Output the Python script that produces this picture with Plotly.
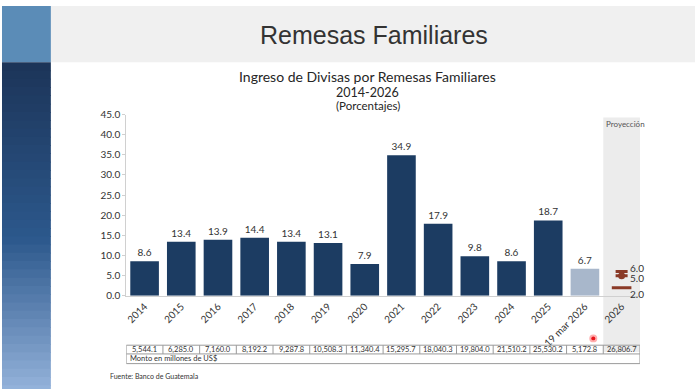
import plotly.graph_objects as go

# ---------------- data ----------------
categories = ["2014", "2015", "2016", "2017", "2018", "2019", "2020", "2021",
              "2022", "2023", "2024", "2025", "19 mar 2026", "2026"]
growth_pct = [8.6, 13.4, 13.9, 14.4, 13.4, 13.1, 7.9, 34.9, 17.9, 9.8, 8.6, 18.7, 6.7, None]
amount_musd = ["5,544.1", "6,285.0", "7,160.0", "8,192.2", "9,287.8", "10,508.3", "11,340.4",
               "15,295.7", "18,040.3", "19,804.0", "21,510.2", "25,530.2", "5,172.8", "26,806.7"]
proj_category = "2026"
proj_high = 6.0
proj_mid = 5.0
proj_low = 2.0
y_ticks = [0, 5, 10, 15, 20, 25, 30, 35, 40, 45]

W, H = 695, 389
def px(x):
    return x / W
def py(y):
    return 1 - y / H

NAVY = "#1c3c62"
LIGHT = "#a8b7cb"
PROJ = "#8a3a27"

bar_colors = [NAVY] * 12 + [LIGHT, LIGHT]
proj_idx = categories.index(proj_category)
ncat = len(categories)

fig = go.Figure()

fig.add_trace(go.Bar(
    x=categories, y=growth_pct,
    marker=dict(color=bar_colors, line=dict(width=0)),
    text=[f"{v:.1f}" if v is not None else "" for v in growth_pct],
    textposition="outside",
    textfont=dict(family="Lato", size=10, color="#333333"),
    cliponaxis=False,
    hoverinfo="skip",
))

# projection: high (cap) and central (dot) values
fig.add_trace(go.Scatter(
    x=[proj_category], y=[proj_mid], mode="markers",
    marker=dict(symbol="circle", size=7, color=PROJ),
    error_y=dict(type="data", symmetric=False, array=[proj_high - proj_mid], arrayminus=[0],
                 color=PROJ, thickness=3, width=6),
    hoverinfo="skip",
))
# projection: low value
fig.add_trace(go.Scatter(
    x=[proj_category], y=[proj_low], mode="markers",
    marker=dict(symbol="line-ew", size=14, line=dict(color=PROJ, width=3)),
    hoverinfo="skip",
))

shapes = []
# header band
shapes.append(dict(type="rect", xref="paper", yref="paper", x0=px(49), x1=1, y0=py(58), y1=1,
                   fillcolor="#f0f0f0", line=dict(width=0), layer="below"))
# left strip top
shapes.append(dict(type="rect", xref="paper", yref="paper", x0=0, x1=px(49), y0=py(58), y1=1,
                   fillcolor="#5b8cb7", line=dict(width=0), layer="below"))
# left strip gradient
def lerp(c1, c2, t):
    return tuple(int(round(a + (b - a) * t)) for a, b in zip(c1, c2))
stops = [(58, (28, 52, 88)), (240, (44, 88, 140)), (400, (150, 180, 220))]
n = 40
for i in range(n):
    y0 = 58 + (400 - 58) * i / n
    y1 = 58 + (400 - 58) * (i + 1) / n
    ym = (y0 + y1) / 2
    if ym <= stops[1][0]:
        t = (ym - stops[0][0]) / (stops[1][0] - stops[0][0])
        c = lerp(stops[0][1], stops[1][1], t)
    else:
        t = (ym - stops[1][0]) / (stops[2][0] - stops[1][0])
        c = lerp(stops[1][1], stops[2][1], t)
    shapes.append(dict(type="rect", xref="paper", yref="paper", x0=0, x1=px(49),
                       y0=py(y1) - 0.002, y1=py(y0),
                       fillcolor="rgb(%d,%d,%d)" % c, line=dict(width=0), layer="below"))

# projection band
shapes.append(dict(type="rect", xref="x", yref="paper", x0=proj_idx - 0.5, x1=proj_idx + 0.7,
                   y0=py(357), y1=py(115),
                   fillcolor="#ececec", line=dict(width=0), layer="below"))

# table
tbl_top, tbl_mid, tbl_bot = 350, 359, 369
grid = "#9a9a9a"
shapes.append(dict(type="rect", xref="x", yref="paper", x0=-0.5, x1=ncat - 0.5,
                   y0=py(tbl_bot), y1=py(tbl_top), line=dict(color=grid, width=1)))
shapes.append(dict(type="line", xref="x", yref="paper", x0=-0.5, x1=ncat - 0.5,
                   y0=py(tbl_mid), y1=py(tbl_mid), line=dict(color=grid, width=1)))
for i in range(1, ncat):
    shapes.append(dict(type="line", xref="x", yref="paper", x0=i - 0.5, x1=i - 0.5,
                       y0=py(tbl_mid), y1=py(tbl_top), line=dict(color=grid, width=1)))

# cursor dot seen in the slide
shapes.append(dict(type="circle", xref="paper", yref="paper", x0=px(589), x1=px(597),
                   y0=py(347), y1=py(339), fillcolor="rgba(255,120,120,0.6)", line=dict(width=0)))
shapes.append(dict(type="circle", xref="paper", yref="paper", x0=px(591), x1=px(595),
                   y0=py(345), y1=py(341), fillcolor="#e8141b", line=dict(width=0)))

annotations = []
def ann(text, x, y, size, xanchor="center", family="Lato", color="#333333", xref="paper", yref="paper", **kw):
    annotations.append(dict(text=text, xref=xref, yref=yref, x=x, y=y, showarrow=False,
                            xanchor=xanchor, yanchor="middle",
                            font=dict(family=family, size=size, color=color), **kw))

ann("Remesas Familiares", px(373), py(30), 25, family="Liberation Sans", color="#333333")
ann("Ingreso de Divisas por Remesas Familiares", px(367), py(73), 14, color="#262626")
ann("2014-2026", px(367), py(89), 12.5, color="#262626")
ann("(Porcentajes)", px(367), py(103), 11.5, color="#262626")
ann("Proyección", proj_idx + 0.1, py(122), 8, color="#555555", xref="x")
for val, ys in ((proj_high, 4), (proj_mid, -2), (proj_low, -6)):
    ann(f"{val:.1f}", proj_idx, val, 10, xanchor="left", xref="x", yref="y", xshift=6, yshift=ys)
for i, amt in enumerate(amount_musd):
    ann(amt, i, py((tbl_top + tbl_mid) / 2), 7.5, xref="x")
ann("Monto en millones de US$", px(126), py((tbl_mid + tbl_bot) / 2), 7.5, xanchor="left")
ann("Fuente: Banco de Guatemala", px(106), py(382), 7, xanchor="left")

fig.update_layout(
    width=W, height=H, autosize=False,
    margin=dict(l=0, r=0, t=0, b=0),
    paper_bgcolor="white", plot_bgcolor="rgba(0,0,0,0)",
    showlegend=False,
    bargap=0.22,
    shapes=shapes, annotations=annotations,
    xaxis=dict(domain=[px(124.6), px(639.8)], type="category", categoryorder="array",
               categoryarray=categories, range=[-0.5, ncat - 0.5], autorange=False,
               tickangle=-45,
               tickfont=dict(family="Lato", size=10, color="#333333"),
               showline=True, linecolor="#d0d0d0", linewidth=1, ticks="", showgrid=False,
               fixedrange=True),
    yaxis=dict(domain=[py(299), py(112)], range=[0, 45], autorange=False, tickvals=y_ticks,
               ticktext=[f"{v:.1f}" for v in y_ticks],
               tickfont=dict(family="Lato", size=10, color="#333333"),
               showline=True, linecolor="#d0d0d0", linewidth=1, ticks="outside", ticklen=3,
               tickcolor="#d0d0d0", showgrid=False, zeroline=False, fixedrange=True),
)

fig.write_html("out.html", config={"displayModeBar": False},
               post_script="document.body.style.margin='0';document.body.style.overflow='hidden';")
